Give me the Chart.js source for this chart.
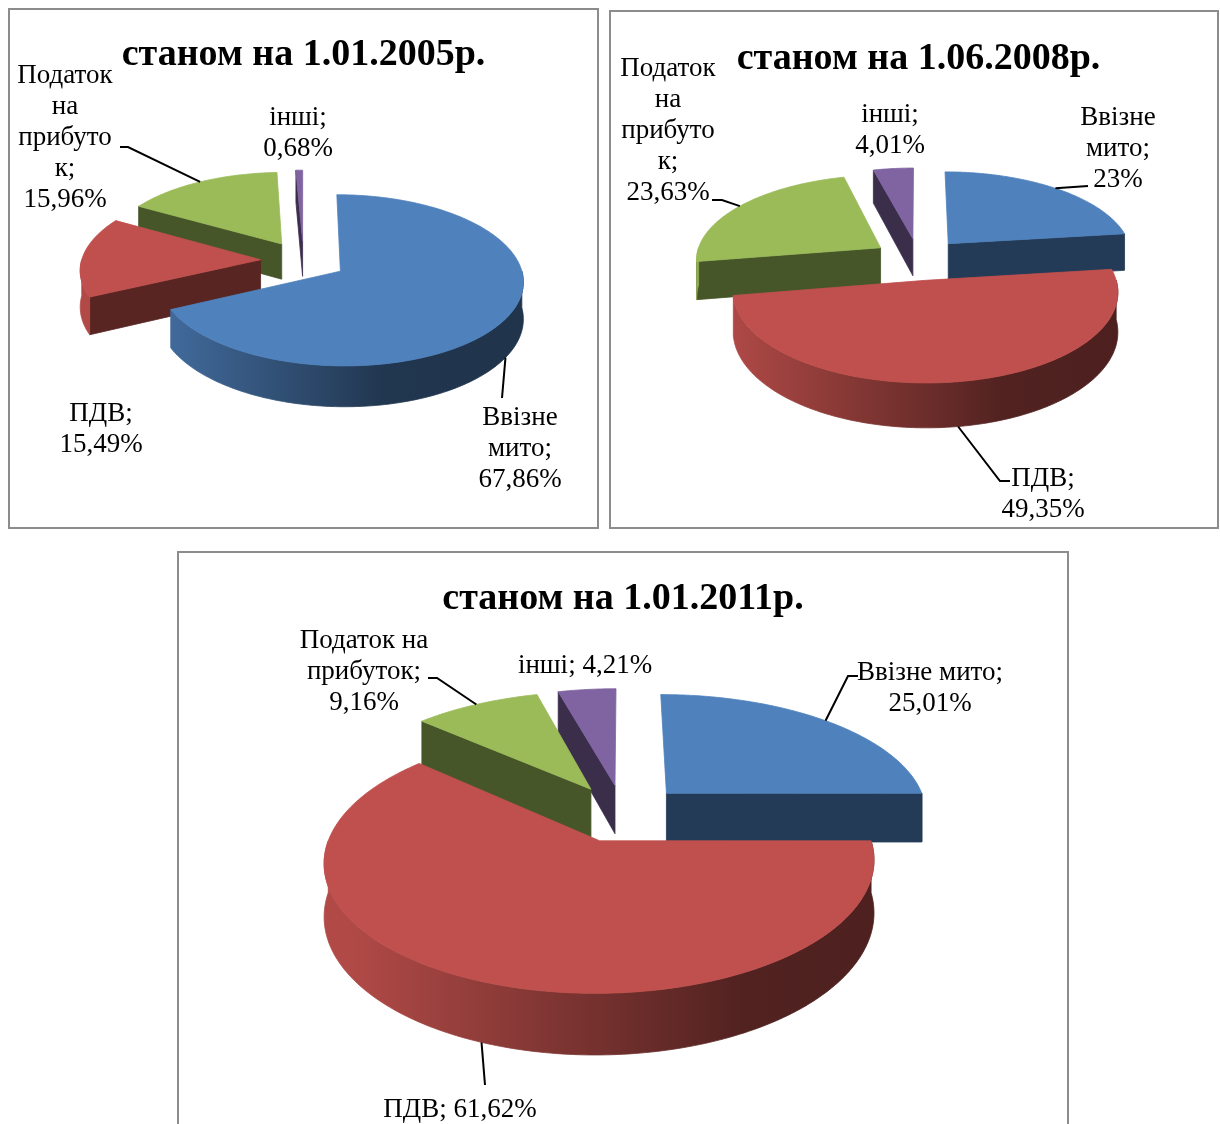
<!DOCTYPE html>
<html lang="uk">
<head>
<meta charset="utf-8">
<title>Структура надходжень</title>
<script src="https://cdn.jsdelivr.net/npm/chart.js@4.4.1/dist/chart.umd.min.js"></script>
<style>
  html, body { margin: 0; padding: 0; background: #fff; }
  body { width: 1220px; height: 1124px; overflow: hidden; position: relative; }
  .panel { position: absolute; box-sizing: border-box; border: 2px solid #8c8c8c; background: #fff; }
  .panel canvas { display: block; }
</style>
</head>
<body>
<div class="panel" style="left:8px;top:8px;width:591px;height:521px"><canvas id="c2005" width="587" height="517"></canvas></div>
<div class="panel" style="left:609px;top:10px;width:610px;height:519px"><canvas id="c2008" width="606" height="515"></canvas></div>
<div class="panel" style="left:177px;top:551px;width:892px;height:600px"><canvas id="c2011" width="888" height="596"></canvas></div>
<script>
const categories = ['Ввізне мито', 'ПДВ', 'Податок на прибуток', 'інші'];
const share2005 = [67.86, 15.49, 15.96, 0.68];
const share2008 = [23, 49.35, 23.63, 4.01];
const share2011 = [25.01, 61.62, 9.16, 4.21];
const titles = ['станом на 1.01.2005р.', 'станом на 1.06.2008р.', 'станом на 1.01.2011р.'];
const sliceColors = ['#4f81bd', '#c0504d', '#9bbb59', '#8064a2'];

const fmt = v => String(v).replace('.', ',') + '%';

function shade(hex, f) {
  const n = parseInt(hex.slice(1), 16);
  const c = [(n >> 16) & 255, (n >> 8) & 255, n & 255].map(x => Math.round(x * f));
  return `rgb(${c[0]},${c[1]},${c[2]})`;
}

// slice geometry from the arcs Chart.js laid out, seen in a tilted perspective
function sliceGeometry(chart) {
  const o = chart.options.plugins.pie3d;
  return chart.getDatasetMeta(0).data.map((arc, i) => {
    const p = arc.getProps(['x', 'y', 'startAngle', 'endAngle', 'outerRadius'], true);
    const mid = (p.startAngle + p.endAngle) / 2;
    const off = arc.options.offset || 0;
    const eu = Math.cos(mid) * off, ev = Math.sin(mid) * off;
    const pt = (u, v, d) => {
      const U = eu + u, V = ev + v;
      const f = o.dist / (o.dist - V);
      return [p.x + U * f, p.y + (V * o.tilt + d) * f];
    };
    return { i, ...p, mid, ev, pt, color: arc.options.backgroundColor };
  });
}

function arcPoints(s, a0, a1, d) {
  const n = Math.max(2, Math.ceil(Math.abs(a1 - a0) / (Math.PI / 180)));
  const pts = [];
  for (let j = 0; j <= n; j++) {
    const a = a0 + (a1 - a0) * j / n;
    pts.push(s.pt(Math.cos(a) * s.outerRadius, Math.sin(a) * s.outerRadius, d));
  }
  return pts;
}

function fillPoly(ctx, pts, fill) {
  ctx.beginPath();
  pts.forEach(([x, y], j) => j ? ctx.lineTo(x, y) : ctx.moveTo(x, y));
  ctx.closePath();
  ctx.fillStyle = fill;
  ctx.fill();
  ctx.strokeStyle = fill;
  ctx.lineWidth = 0.8;
  ctx.stroke();
}

const pie3d = {
  id: 'pie3d',
  beforeDatasetsDraw(chart, args, opts) {
    const ctx = chart.ctx;
    const H = opts.depth;
    const slices = sliceGeometry(chart).sort((a, b) => a.ev - b.ev);
    ctx.save();
    for (const s of slices) {
      const r = s.outerRadius;
      const tip0 = s.pt(0, 0, 0), tipH = s.pt(0, 0, H);
      const dark = shade(s.color, 0.46);
      const a0 = s.startAngle, a1 = s.endAngle;
      if (-Math.cos(a0) > 0.02) {
        fillPoly(ctx, [tip0, s.pt(Math.cos(a0) * r, Math.sin(a0) * r, 0), s.pt(Math.cos(a0) * r, Math.sin(a0) * r, H), tipH], dark);
      }
      if (Math.cos(a1) > 0.02) {
        fillPoly(ctx, [tip0, s.pt(Math.cos(a1) * r, Math.sin(a1) * r, 0), s.pt(Math.cos(a1) * r, Math.sin(a1) * r, H), tipH], dark);
      }
      const w0 = Math.max(a0, 0), w1 = Math.min(a1, Math.PI);
      if (w1 > w0) {
        const grad = ctx.createLinearGradient(s.x - r * 1.05, 0, s.x + r * 1.05, 0);
        grad.addColorStop(0, shade(s.color, 0.92));
        grad.addColorStop(0.72, shade(s.color, 0.42));
        grad.addColorStop(1, shade(s.color, 0.4));
        fillPoly(ctx, [...arcPoints(s, w0, w1, 0), ...arcPoints(s, w1, w0, H)], grad);
      }
      fillPoly(ctx, [tip0, ...arcPoints(s, a0, a1, 0)], s.color);
    }
    ctx.restore();
    return false;
  }
};

function wrap(ctx, text, maxW) {
  const lines = [];
  let cur = '';
  for (const w of text.split(' ')) {
    const test = cur ? cur + ' ' + w : w;
    if (ctx.measureText(test).width <= maxW) { cur = test; continue; }
    if (cur) lines.push(cur);
    let piece = w;
    while (ctx.measureText(piece).width > maxW) {
      let n = piece.length;
      while (n > 1 && ctx.measureText(piece.slice(0, n)).width > maxW) n--;
      lines.push(piece.slice(0, n));
      piece = piece.slice(n);
    }
    cur = piece;
  }
  if (cur) lines.push(cur);
  return lines;
}

const pieLabels = {
  id: 'pieLabels',
  afterDraw(chart, args, opts) {
    const ctx = chart.ctx;
    const depth = chart.options.plugins.pie3d.depth;
    const slices = sliceGeometry(chart);
    const values = chart.data.datasets[0].data;
    ctx.save();
    ctx.font = '27px "Liberation Serif"';
    ctx.fillStyle = '#000';
    ctx.strokeStyle = '#000';
    ctx.lineWidth = 2;
    ctx.textAlign = 'center';
    ctx.textBaseline = 'middle';
    opts.items.forEach((it, i) => {
      const s = slices[i];
      if (it.leader) {
        const front = Math.sin(s.mid) > 0;
        const start = s.pt(Math.cos(s.mid) * s.outerRadius, Math.sin(s.mid) * s.outerRadius, front ? depth : 0);
        ctx.beginPath();
        ctx.moveTo(start[0], start[1]);
        it.leader.forEach(p => ctx.lineTo(p[0], p[1]));
        ctx.stroke();
      }
      const lines = wrap(ctx, chart.data.labels[i] + '; ' + fmt(values[i]), it.w);
      lines.forEach((ln, j) => ctx.fillText(ln, it.x, it.y + j * 31));
    });
    ctx.restore();
  }
};

function drawPie(id, values, title, look) {
  return new Chart(document.getElementById(id), {
    type: 'pie',
    data: {
      labels: categories,
      datasets: [{ data: values, backgroundColor: sliceColors, borderWidth: 0, offset: look.explode }]
    },
    options: {
      responsive: false,
      animation: false,
      radius: look.radius,
      layout: { padding: look.padding },
      events: [],
      plugins: {
        legend: { display: false },
        tooltip: { enabled: false },
        title: {
          display: true,
          text: title,
          color: '#000',
          font: { family: 'Liberation Serif', size: 38, weight: 'bold', lineHeight: 1.2 },
          padding: { top: look.titleTop, bottom: 0 }
        },
        pie3d: { tilt: look.tilt, dist: look.dist, depth: look.depth },
        pieLabels: { items: look.labels }
      }
    },
    plugins: [pie3d, pieLabels]
  });
}

drawPie('c2005', share2005, titles[0], {
  radius: 179, explode: 43, tilt: 0.46, dist: 1700, depth: 36,
  padding: { left: 0, right: 0, top: 0, bottom: 83.6 }, titleTop: 22,
  labels: [
    { x: 510, y: 408, w: 90, leader: [[492, 388]] },
    { x: 91, y: 404, w: 90 },
    { x: 55, y: 66, w: 100, leader: [[118, 137], [110, 137]] },
    { x: 288, y: 108, w: 75 }
  ]
});

drawPie('c2008', share2008, titles[1], {
  radius: 185, explode: 46, tilt: 0.455, dist: 1500, depth: 38,
  padding: { left: 9, right: 0, top: 0, bottom: 90.8 }, titleTop: 24.2,
  labels: [
    { x: 507, y: 106, w: 90, leader: [[477, 174]] },
    { x: 432, y: 467, w: 90, leader: [[389, 469], [399, 469]] },
    { x: 57, y: 57, w: 100, leader: [[111, 188], [101, 188]] },
    { x: 279, y: 103, w: 75 }
  ]
});

drawPie('c2011', share2011, titles[2], {
  radius: 262, explode: 63, tilt: 0.456, dist: 1700, depth: 50,
  padding: { left: 0, right: 0, top: 0, bottom: 144.8 }, titleTop: 23.2,
  labels: [
    { x: 751, y: 120, w: 165, leader: [[669, 123], [679, 123]] },
    { x: 281, y: 557, w: 220, leader: [[306, 532]] },
    { x: 185, y: 88, w: 140, leader: [[258, 125], [249, 125]] },
    { x: 406, y: 113, w: 200 }
  ]
});
</script>
</body>
</html>
